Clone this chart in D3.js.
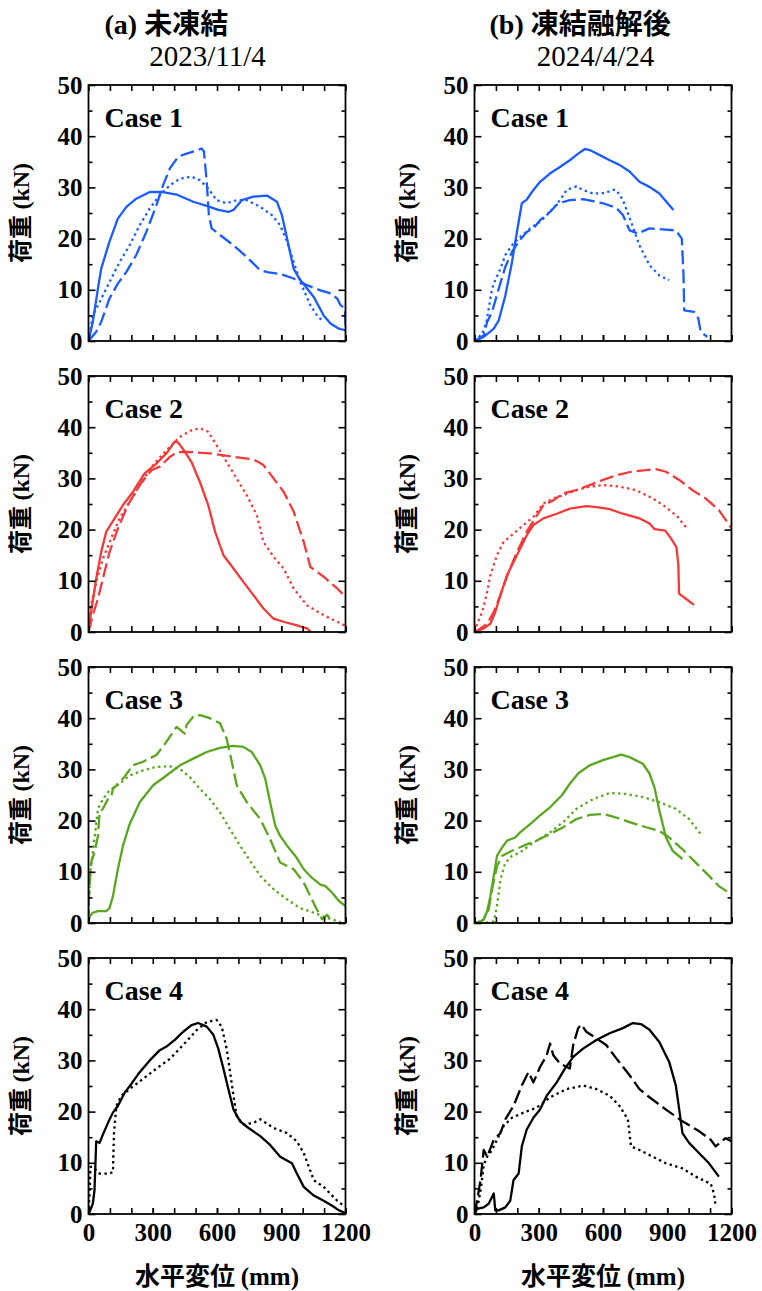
<!DOCTYPE html>
<meta charset="utf-8">
<style>
  body { margin: 0; background: #fff; }
  text { font-family: "Liberation Serif", "Times New Roman", serif; }
  .jp { font-family: "Noto Sans CJK JP", sans-serif; font-weight: 700; }
</style>

<div id="chart"></div>

<script src="https://cdn.jsdelivr.net/npm/d3@7"></script>
<script>

// ---- data (水平変位 mm, 荷重 kN) ----
var xTicks = [0, 300, 600, 900, 1200];
var yTicks = [0, 10, 20, 30, 40, 50];
var caseNames = ["Case 1", "Case 2", "Case 3", "Case 4"];
var columnTitles = ["未凍結", "凍結融解後"];
var columnTags = ["(a)", "(b)"];
var columnDates = ["2023/11/4", "2024/4/24"];

// (a) 未凍結
var a1Solid = [[0,0],[20,3.7],[44,10.2],[59,14.1],[98,19.4],[137,23.9],[177,26.2],[223,27.8],[286,29.1],[348,29.1],[411,28.6],[489,27.2],[552,26.4],[606,25.6],[653,25.2],[677,25.6],[716,27.5],[770,28.2],[833,28.4],[880,27.2],[903,24.6],[934,18.7],[958,14.1],[989,11.9],[1052,8.6],[1098,5.0],[1130,3.4],[1169,2.4],[1200,2.1]];
var a1Dot = [[0,0],[20,5.0],[52,7.6],[98,11.5],[145,15.4],[192,18.7],[239,22.6],[286,25.9],[333,28.5],[380,30.4],[427,31.7],[481,32.1],[520,31.4],[559,29.8],[598,27.5],[645,26.9],[692,27.5],[739,27.5],[802,26.2],[856,24.6],[895,22.6],[927,19.4],[958,15.4],[989,11.5],[1036,7.0],[1067,5.0],[1098,3.7]];
var a1Dash = [[0,0],[36,1.8],[59,3.7],[98,8.3],[137,11.2],[177,13.5],[223,16.8],[270,21.3],[317,26.5],[348,30.4],[380,33.7],[419,36.0],[458,36.6],[497,37.1],[528,37.6],[539,37.0],[552,31.1],[562,24.6],[575,22.0],[614,20.7],[677,18.7],[739,16.4],[802,13.8],[841,13.4],[903,13.0],[958,12.2],[1020,10.9],[1083,9.9],[1130,9.3],[1161,8.3],[1177,7.0],[1198,6.3],[1200,2.5]];

var a2Solid = [[0,0],[12,3.9],[36,10.4],[59,15.6],[83,19.6],[122,22.2],[161,24.8],[208,27.4],[262,31.0],[317,32.9],[364,34.9],[403,37.2],[419,37.0],[450,35.2],[481,33.2],[520,29.3],[559,24.8],[591,19.6],[630,15.0],[677,12.4],[723,9.8],[770,7.2],[817,4.6],[864,2.6],[911,2.0],[973,1.3],[1020,0.7],[1039,0]];
var a2Dot = [[0,0],[12,5.2],[36,9.8],[67,14.3],[106,18.3],[145,22.2],[192,25.4],[239,28.7],[302,32.6],[364,35.5],[427,38.1],[481,39.4],[520,39.8],[559,39.1],[598,36.5],[645,33.2],[692,30.0],[739,26.7],[786,22.8],[817,17.6],[864,14.7],[911,12.4],[958,8.5],[1020,5.2],[1098,3.3],[1161,2.0],[1200,1.2]];
var a2Dash = [[0,0],[20,3.3],[44,6.5],[67,10.4],[98,15.6],[137,20.2],[184,24.8],[239,28.7],[294,31.6],[333,32.3],[380,34.2],[411,35.1],[458,35.2],[567,34.9],[677,34.2],[770,33.7],[817,32.6],[864,30.0],[911,27.4],[958,23.5],[1005,17.6],[1036,12.7],[1098,10.8],[1161,8.5],[1192,7.2],[1200,7.0]];

var a3Solid = [[0,0],[5,1.3],[20,2.0],[44,2.3],[83,2.3],[98,2.9],[114,5.2],[137,10.5],[161,15.1],[192,19.3],[239,23.6],[302,26.9],[364,28.8],[427,30.8],[489,32.1],[552,33.4],[614,34.2],[677,34.6],[723,34.4],[762,33.4],[802,30.8],[825,28.2],[848,23.6],[872,19.0],[895,17.0],[927,15.1],[966,13.1],[1005,10.5],[1044,8.8],[1083,7.5],[1106,7.2],[1138,5.9],[1169,4.3],[1200,3.3]];
var a3Dot = [[0,0],[2,3.9],[8,9.8],[20,13.8],[33,18.3],[44,22.3],[67,24.2],[98,25.9],[145,27.2],[192,28.8],[255,29.8],[317,30.5],[380,30.6],[427,30.1],[473,28.5],[520,26.2],[567,24.2],[614,21.6],[661,18.3],[708,15.1],[755,12.1],[802,9.2],[864,6.6],[927,4.6],[989,2.9],[1052,2.0],[1114,1.0],[1177,0.2]];
var a3Dash = [[0,0],[2,5.2],[12,11.8],[28,13.8],[44,17.0],[52,21.6],[67,22.3],[91,24.2],[106,24.6],[114,26.2],[161,28.2],[208,30.8],[255,31.5],[317,32.8],[364,35.4],[411,38.3],[450,37.0],[458,38.7],[489,40.3],[520,40.6],[567,40.0],[614,39.0],[645,36.0],[669,31.5],[692,26.9],[739,23.6],[802,20.3],[848,16.4],[895,11.8],[958,10.5],[1005,7.9],[1036,5.2],[1067,2.6],[1091,0.7],[1114,1.6],[1130,0.7]];

var a4Solid = [[0,0],[8,0.7],[20,2.0],[28,4.6],[33,10.6],[36,14.2],[52,13.9],[67,15.5],[91,17.8],[114,19.8],[137,21.1],[169,23.7],[200,25.4],[239,27.7],[286,30.0],[333,32.0],[364,32.7],[403,34.0],[442,35.6],[481,36.9],[512,37.3],[552,36.6],[583,35.0],[606,32.3],[630,28.4],[653,24.4],[677,20.4],[708,18.1],[747,16.8],[802,15.2],[848,13.5],[895,11.2],[950,9.9],[973,7.9],[1005,5.3],[1052,3.6],[1098,2.6],[1138,1.6],[1169,0.7],[1200,0.2]];
var a4Dot = [[0,0],[5,4.0],[9,9.2],[20,9.2],[52,7.9],[98,7.9],[114,8.2],[119,15.8],[130,21.1],[153,23.1],[192,24.4],[255,26.4],[317,28.4],[380,30.3],[442,33.0],[505,35.9],[552,37.5],[598,37.9],[622,36.6],[645,32.3],[661,27.7],[677,23.1],[692,19.1],[723,17.5],[770,17.8],[802,18.5],[864,16.8],[927,15.8],[973,14.2],[1005,11.9],[1052,6.6],[1098,5.3],[1161,2.6],[1192,1.6]];

// (b) 凍結融解後
var b1Solid = [[0,0],[43,0.8],[90,2.4],[113,4.0],[144,8.9],[175,15.4],[198,21.3],[221,26.9],[244,27.6],[268,29.1],[306,31.1],[352,32.7],[399,34.0],[445,35.3],[484,36.6],[515,37.5],[538,37.3],[585,36.3],[631,35.3],[677,34.4],[724,33.1],[770,31.1],[817,30.1],[863,28.8],[902,26.9],[929,25.6]];
var b1Dot = [[0,0],[36,1.4],[56,3.7],[66,6.3],[82,10.2],[97,11.9],[121,14.1],[144,16.8],[175,18.7],[213,20.3],[260,22.0],[306,23.3],[352,25.2],[399,27.5],[430,29.5],[476,30.2],[507,29.5],[554,28.8],[608,28.9],[646,29.5],[662,29.5],[693,27.5],[731,23.3],[770,18.7],[817,14.8],[863,12.8],[909,11.9]];
var b1Dash = [[0,0],[43,1.1],[59,3.7],[82,5.7],[113,10.2],[144,14.5],[175,17.4],[206,19.4],[244,21.3],[275,22.0],[306,23.6],[352,25.2],[391,26.9],[445,27.5],[507,27.7],[554,27.3],[600,26.9],[662,26.0],[693,24.6],[724,21.6],[762,21.0],[817,22.0],[878,21.8],[940,21.6],[968,20.0],[976,12.8],[979,6.0],[1025,5.7],[1045,4.4],[1056,1.8],[1087,0.8]];

var b2Solid = [[0,0],[43,0.7],[74,1.6],[97,3.9],[121,7.2],[152,11.1],[198,15.0],[244,18.9],[275,20.9],[322,22.2],[384,23.1],[445,24.1],[523,24.6],[569,24.4],[631,24.0],[693,23.1],[770,22.2],[817,21.2],[840,20.1],[891,19.8],[917,18.3],[943,16.6],[952,13.0],[955,7.5],[987,6.5],[1025,5.3]];
var b2Dot = [[0,0],[12,1.6],[36,3.9],[59,7.8],[74,11.1],[105,15.0],[136,17.6],[182,19.2],[229,20.9],[275,22.5],[322,25.1],[368,26.1],[414,26.7],[476,27.7],[538,28.4],[600,28.7],[677,28.4],[754,27.7],[832,26.1],[894,24.4],[948,22.5],[990,20.3]];
var b2Dash = [[0,0],[28,0.7],[59,1.6],[90,3.9],[121,7.2],[159,11.7],[198,15.6],[244,19.6],[283,22.2],[322,24.8],[368,25.7],[414,27.1],[476,27.7],[538,28.7],[600,29.7],[662,30.6],[731,31.3],[801,31.6],[847,31.8],[894,31.3],[956,29.7],[1018,27.7],[1079,26.1],[1141,23.8],[1200,20.3]];

var b3Solid = [[0,0],[28,0.3],[43,0.7],[59,2.3],[74,5.2],[90,9.2],[105,13.1],[128,14.7],[152,16.1],[190,16.7],[213,17.7],[260,19.3],[306,21.0],[353,22.6],[407,24.9],[445,27.2],[484,29.2],[538,30.8],[600,31.8],[646,32.4],[685,32.9],[724,32.4],[786,31.1],[817,29.2],[840,26.5],[863,22.0],[894,16.7],[925,14.1],[971,12.5]];
var b3Dot = [[0,0],[43,0],[90,0.3],[105,3.3],[121,8.5],[144,11.8],[175,13.1],[213,13.8],[275,15.7],[353,17.7],[422,20.0],[476,22.3],[554,24.2],[631,25.4],[708,25.2],[786,24.6],[863,23.6],[940,22.3],[1002,20.3],[1056,17.4]];
var b3Dash = [[0,0],[28,0.3],[43,0.7],[66,2.6],[82,6.6],[105,11.1],[128,13.1],[175,14.1],[229,15.1],[291,16.1],[353,17.4],[414,18.7],[476,20.3],[538,21.1],[600,21.3],[662,20.6],[724,19.7],[801,18.7],[863,18.0],[909,16.7],[971,14.4],[1033,11.8],[1095,9.2],[1141,7.2],[1200,5.6]];

var b4Solid = [[0,0],[12,1.0],[43,1.3],[66,2.0],[90,4.0],[97,0.7],[113,0.7],[144,1.3],[167,2.6],[182,6.6],[206,7.9],[221,13.2],[244,16.5],[275,18.8],[306,20.4],[337,23.1],[384,25.7],[422,28.4],[461,30.7],[507,32.3],[569,34.0],[631,35.3],[693,36.3],[739,37.3],[777,37.1],[817,36.0],[863,33.6],[909,29.7],[940,25.1],[956,20.4],[971,15.8],[1002,13.9],[1048,11.9],[1095,9.9],[1141,7.3]];
var b4Dot = [[0,0],[9,0.7],[20,2.6],[31,5.3],[43,9.6],[59,11.2],[82,12.5],[105,14.5],[136,17.2],[175,18.8],[229,19.8],[291,20.8],[353,22.8],[430,24.4],[507,25.1],[569,24.4],[631,23.1],[677,21.1],[716,18.5],[731,13.2],[770,12.5],[832,11.2],[894,9.9],[971,8.9],[1033,7.3],[1103,5.9],[1118,4.0],[1126,1.6]];
var b4Dash = [[0,0],[12,2.6],[28,6.6],[43,12.5],[59,11.2],[90,14.5],[121,15.8],[144,18.5],[182,21.1],[221,25.1],[252,27.7],[275,25.7],[306,28.7],[337,31.0],[353,33.3],[368,31.0],[399,29.4],[445,28.4],[461,33.0],[484,36.3],[499,37.0],[522,35.6],[569,34.3],[615,33.0],[662,30.4],[724,27.1],[770,24.4],[817,22.8],[894,20.4],[971,18.1],[1048,16.2],[1103,14.5],[1126,13.2],[1172,14.8],[1200,14.2]];

// ---- layout / style ----
var W = 762, H = 1291;
var colX = [88.5, 474.5], rowY = [85, 376, 667, 958];
var pw = 257, ph = 256;
var caseColors = ["#1a5cff", "#f23a3a", "#5aa61f", "#000000"];
var dashes = { solid: null, dot: "2.4,3.4", dash: "14,5" };

var panels = [
  [ [["solid",a1Solid],["dot",a1Dot],["dash",a1Dash]],
    [["solid",a2Solid],["dot",a2Dot],["dash",a2Dash]],
    [["solid",a3Solid],["dot",a3Dot],["dash",a3Dash]],
    [["solid",a4Solid],["dot",a4Dot]] ],
  [ [["solid",b1Solid],["dot",b1Dot],["dash",b1Dash]],
    [["solid",b2Solid],["dot",b2Dot],["dash",b2Dash]],
    [["solid",b3Solid],["dot",b3Dot],["dash",b3Dash]],
    [["solid",b4Solid],["dot",b4Dot],["dash",b4Dash]] ]
];

var svg = d3.select("#chart")
  .append("svg")
    .attr("width", W)
    .attr("height", H);

var x = d3.scaleLinear().domain([0, 1200]).range([0, pw]);
var y = d3.scaleLinear().domain([0, 50]).range([ph, 0]);

var line = d3.line()
  .x(function(d) { return x(d[0]); })
  .y(function(d) { return y(d[1]); });

svg.append("defs").append("clipPath").attr("id", "clip")
  .append("rect").attr("width", pw).attr("height", ph);

panels.forEach(function(col, ci) {
  col.forEach(function(series, ri) {
    var g = svg.append("g")
      .attr("transform", "translate(" + colX[ci] + "," + rowY[ri] + ")");

    // curves
    var lg = g.append("g").attr("clip-path", "url(#clip)");
    series.forEach(function(s) {
      lg.append("path")
        .datum(s[1])
        .attr("d", line)
        .attr("fill", "none")
        .attr("stroke", caseColors[ri])
        .attr("stroke-width", 2.3)
        .attr("stroke-linejoin", "round")
        .attr("stroke-dasharray", dashes[s[0]]);
    });

    // axes: ticks pointing inward on all four sides
    var minorY = d3.range(5, 50, 10);
    var minorX = d3.range(0, 1201, 100);
    var bottom = d3.axisBottom(x).tickValues(xTicks).tickSize(-6).tickPadding(7)
      .tickFormat(function(d) { return d; });
    if (ri < 3) bottom.tickFormat("");
    g.append("g").attr("class", "ax xb").attr("transform", "translate(0," + ph + ")").call(bottom);
    g.append("g").attr("class", "ax").attr("transform", "translate(0," + ph + ")")
      .call(d3.axisBottom(x).tickValues(minorX).tickSize(-6).tickFormat(""));
    g.append("g").attr("class", "ax")
      .call(d3.axisTop(x).tickValues(minorX).tickSize(-6).tickFormat(""));
    g.append("g").attr("class", "ax yl")
      .call(d3.axisLeft(y).tickValues(yTicks).tickSize(-7).tickPadding(6));
    g.append("g").attr("class", "ax")
      .call(d3.axisLeft(y).tickValues(minorY).tickSize(-4).tickFormat(""));
    g.append("g").attr("class", "ax").attr("transform", "translate(" + pw + ",0)")
      .call(d3.axisRight(y).tickValues(yTicks).tickSize(-7).tickFormat(""));
    g.append("g").attr("class", "ax").attr("transform", "translate(" + pw + ",0)")
      .call(d3.axisRight(y).tickValues(minorY).tickSize(-4).tickFormat(""));

    g.append("rect")
      .attr("width", pw).attr("height", ph)
      .attr("fill", "none").attr("stroke", "#000").attr("stroke-width", 1.8);

    // case label
    g.append("text")
      .attr("x", 16).attr("y", 42)
      .attr("font-size", 28).attr("font-weight", 700)
      .text(caseNames[ri]);

    // y title
    var yt = g.append("text")
      .attr("transform", "translate(" + (-60) + "," + (ph / 2) + ") rotate(-90)")
      .attr("text-anchor", "middle")
      .attr("font-size", 24).attr("font-weight", 700);
    yt.append("tspan").attr("class", "jp").text("荷重 ");
    yt.append("tspan").text("(kN)");
  });

  // x title
  var xt = svg.append("text")
    .attr("x", colX[ci] + pw / 2).attr("y", 1285)
    .attr("text-anchor", "middle")
    .attr("font-size", 25).attr("font-weight", 700);
  xt.append("tspan").attr("class", "jp").text("水平変位 ");
  xt.append("tspan").text("(mm)");

  // column title
  var tt = svg.append("text")
    .attr("x", colX[ci] + [16, 15][ci]).attr("y", 34)
    .attr("font-size", 28).attr("font-weight", 700);
  tt.append("tspan").text(columnTags[ci] + " ");
  tt.append("tspan").attr("class", "jp").text(columnTitles[ci]);

  svg.append("text")
    .attr("x", colX[ci] + [119, 121][ci]).attr("y", 66)
    .attr("text-anchor", "middle")
    .attr("font-size", 29)
    .text(columnDates[ci]);
});

svg.selectAll(".ax path").remove();
svg.selectAll(".ax line").attr("stroke", "#000").attr("stroke-width", 1.6);
svg.selectAll(".ax text")
  .attr("fill", "#000")
  .style("font-family", "'Liberation Serif', serif")
  .style("font-weight", 700)
  .style("font-size", "25px");
svg.selectAll(".xb text").attr("dy", "0.8em");

</script>
